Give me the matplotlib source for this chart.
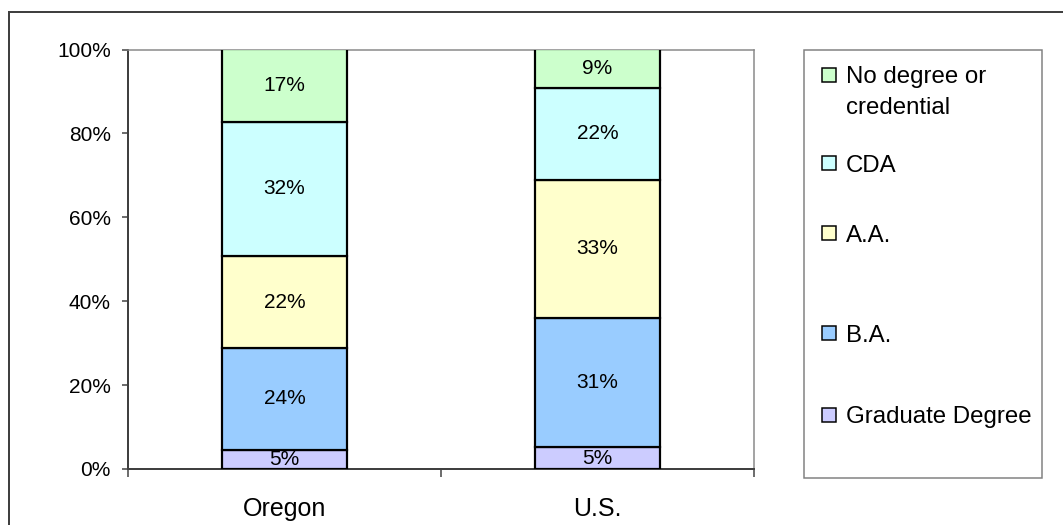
import matplotlib
matplotlib.use("Agg")
import matplotlib.pyplot as plt
from matplotlib.patches import Rectangle
import numpy as np

plt.rcParams['font.family'] = ['Liberation Sans', 'DejaVu Sans']

categories = ["Oregon", "U.S."]
series_names = ["Graduate Degree", "B.A.", "A.A.", "CDA", "No degree or\ncredential"]
oregon_values = [4.6, 24.2, 22.0, 32.0, 17.2]
us_values = [5.2, 30.8, 32.9, 22.0, 9.1]
colors = ["#CCCCFF", "#99CCFF", "#FFFFCC", "#CCFFFF", "#CCFFCC"]
yticks = [0, 20, 40, 60, 80, 100]

W, H = 1063, 525
fig = plt.figure(figsize=(W / 100, H / 100), dpi=100)
fig.patch.set_facecolor("white")

def fx(px):
    return px / W

def fy(py):
    return 1 - py / H

ax = fig.add_axes([fx(128), fy(469), fx(754) - fx(128), fy(49.5) - fy(469)])

data = np.array([oregon_values, us_values]).T  # series x categories
x = np.arange(len(categories))
bottom = np.zeros(len(categories))
px_lw = 72 / 100
for i, name in enumerate(series_names):
    vals = data[i]
    ax.bar(x, vals, width=0.4, bottom=bottom, color=colors[i],
           edgecolor="black", linewidth=2.2 * px_lw, zorder=3)
    for xi, v, b in zip(x, vals, bottom):
        ax.text(xi, b + v / 2, f"{round(v):d}%", ha="center", va="center",
                fontsize=15, color="black", zorder=4)
    bottom += vals

ax.set_xlim(-0.5, 1.5)
ax.set_ylim(0, 100)
ax.set_yticks(yticks)
ax.set_yticklabels([f"{t}%" for t in yticks], fontsize=15)
ax.set_xticks([-0.5, 0.5, 1.5])
ax.set_xticklabels([])
ax.set_xticks(x, minor=True)
ax.set_xticklabels(categories, minor=True, fontsize=18)
ax.tick_params(axis="x", which="minor", length=0, pad=20)
ax.tick_params(axis="x", which="major", length=6, width=1.5 * px_lw, color="#404040")
ax.tick_params(axis="y", length=4.5, width=1.5 * px_lw, color="#404040", pad=8)

for s in ["left", "bottom"]:
    ax.spines[s].set_color("#404040")
    ax.spines[s].set_linewidth(2 * px_lw)
for s in ["top", "right"]:
    ax.spines[s].set_color("#888888")
    ax.spines[s].set_linewidth(1.5 * px_lw)

# Outer chart frame
fig.patches.append(Rectangle((fx(9), fy(H + 20)), fx(W + 20) - fx(9), fy(12) - fy(H + 20),
                             transform=fig.transFigure, fill=False,
                             edgecolor="#404040", linewidth=2 * px_lw, clip_on=False))

# Legend box
fig.patches.append(Rectangle((fx(804), fy(478)), fx(1042) - fx(804), fy(50) - fy(478),
                             transform=fig.transFigure, fill=False,
                             edgecolor="#808080", linewidth=1.5 * px_lw))

legend_order = [4, 3, 2, 1, 0]
legend_y = [75, 163, 233, 333, 415]
line_gap = 30
for idx, ly in zip(legend_order, legend_y):
    fig.patches.append(Rectangle((fx(822), fy(ly + 7)), fx(836) - fx(822), fy(ly - 7) - fy(ly + 7),
                                 transform=fig.transFigure, facecolor=colors[idx],
                                 edgecolor="black", linewidth=1.5 * px_lw))
    for k, line in enumerate(series_names[idx].split("\n")):
        fig.text(fx(846), fy(ly + k * line_gap), line, ha="left", va="center_baseline",
                 fontsize=17.3, color="black")

fig.savefig("out.png", dpi=100)
